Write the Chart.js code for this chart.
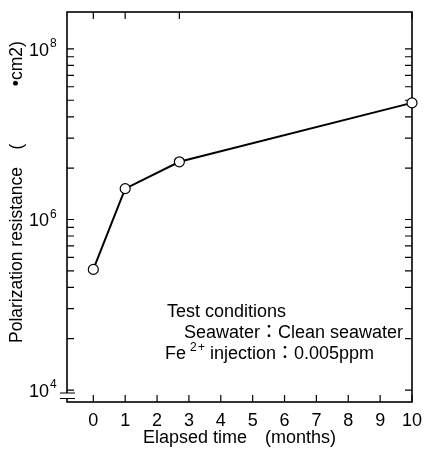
<!DOCTYPE html>
<html>
<head>
<meta charset="utf-8">
<script src="https://cdn.jsdelivr.net/npm/chart.js@4/dist/chart.umd.min.js"></script>
<style>
  html, body { margin: 0; padding: 0; background: #fff; }
  canvas { display: block; }
</style>
</head>
<body>
<canvas id="c" width="424" height="451"></canvas>
<script>
// ---- data ----
const months = [0, 1, 2.7, 10];
const resistance = [2.6e5, 2.3e6, 4.75e6, 2.33e7];
const xTickValues = [0, 1, 2, 3, 4, 5, 6, 7, 8, 9, 10];
const yMajorTicks = [1e4, 1e6, 1e8];
const yMajorBases = ['10', '10', '10'];
const yMajorExponents = ['4', '6', '8'];
const yMinorFactors = [4, 9, 16, 25, 36, 49, 64, 81];
const xTitle = 'Elapsed time\u3000(months)';
const yTitle = 'Polarization resistance\u3000(\u3000\u3000\u3000 \u2022cm2)';
const noteLines = ['Test conditions', 'Seawater\uFF1AClean seawater', ' injection\uFF1A0.005ppm'];
const noteIon = ['Fe', '2', '+'];

const FONT = '"Liberation Sans", Arial, "Noto Sans CJK JP", sans-serif';

function resetPad(s) { s.paddingLeft = 0; s.paddingRight = 0; s.paddingTop = 0; s.paddingBottom = 0; }

const framePlugin = {
  id: 'frame',
  beforeDatasetsDraw(chart) {
    const { ctx, chartArea: a, scales } = chart;
    const xs = scales.x, ys = scales.y;
    const TL = 7;
    ctx.save();
    ctx.strokeStyle = '#000';
    // inward ticks on all four sides
    ctx.lineWidth = 1.2;
    ctx.beginPath();
    ys.ticks.forEach(t => {
      const y = ys.getPixelForValue(t.value);
      ctx.moveTo(a.left, y); ctx.lineTo(a.left + TL, y);
      ctx.moveTo(a.right, y); ctx.lineTo(a.right - TL, y);
    });
    xs.ticks.forEach(t => {
      const x = xs.getPixelForValue(t.value);
      ctx.moveTo(x, a.bottom); ctx.lineTo(x, a.bottom - TL);
    });
    months.forEach(m => {
      const x = xs.getPixelForValue(m);
      ctx.moveTo(x, a.top); ctx.lineTo(x, a.top + TL);
    });
    ctx.stroke();
    // frame
    ctx.lineWidth = 1.6;
    ctx.strokeRect(a.left, a.top, a.right - a.left, a.bottom - a.top);
    // axis break marks
    const y1 = a.bottom - 9, y2 = a.bottom - 3.5;
    ctx.fillStyle = '#fff';
    ctx.fillRect(a.left - 3, y1, 6, y2 - y1);
    ctx.lineWidth = 1.2;
    ctx.beginPath();
    ctx.moveTo(a.left - 7, y1); ctx.lineTo(a.left + 8, y1);
    ctx.moveTo(a.left - 7, y2); ctx.lineTo(a.left + 8, y2);
    ctx.stroke();
    ctx.restore();
  },
  afterDraw(chart) {
    const { ctx, scales } = chart;
    const ys = scales.y;
    ctx.save();
    ctx.fillStyle = '#000';
    // y major tick labels with superscript exponents
    ctx.textBaseline = 'middle';
    yMajorTicks.forEach((v, i) => {
      const y = ys.getPixelForValue(v) + 2;
      ctx.font = '18px ' + FONT;
      ctx.textAlign = 'right';
      ctx.fillText(yMajorBases[i], 49, y);
      ctx.font = '12px ' + FONT;
      ctx.textAlign = 'left';
      ctx.fillText(yMajorExponents[i], 50, y - 7);
    });
    // test-condition notes
    ctx.font = '18px ' + FONT;
    ctx.textBaseline = 'alphabetic';
    ctx.textAlign = 'left';
    ctx.fillText(noteLines[0], 167, 316.5);
    ctx.fillText(noteLines[1], 184, 337.5);
    ctx.fillText(noteIon[0], 165, 358.5);
    ctx.font = '12px ' + FONT;
    ctx.fillText(noteIon[1], 190, 351);
    ctx.fillText(noteIon[2], 198, 351);
    ctx.font = '18px ' + FONT;
    ctx.fillText(noteLines[2], 205, 358.5);
    // y axis title
    ctx.font = '17.5px ' + FONT;
    ctx.translate(17.5, 343);
    ctx.rotate(-Math.PI / 2);
    ctx.textBaseline = 'middle';
    ctx.fillText(yTitle, 0, 0);
    ctx.restore();
  }
};

new Chart(document.getElementById('c'), {
  type: 'line',
  data: {
    datasets: [{
      data: months.map((m, i) => ({ x: m, y: resistance[i] })),
      borderColor: '#000',
      borderWidth: 2,
      pointRadius: 5,
      pointBackgroundColor: '#fff',
      pointBorderColor: '#000',
      pointBorderWidth: 1.2,
      tension: 0,
      clip: false
    }]
  },
  options: {
    responsive: false,
    animation: false,
    devicePixelRatio: 1,
    layout: { padding: { left: 0, top: 12, right: 12, bottom: 0 } },
    plugins: { legend: { display: false }, tooltip: { enabled: false } },
    scales: {
      x: {
        type: 'linear',
        min: -0.826,
        max: 10,
        grid: { display: false, drawTicks: false, tickLength: 0 },
        border: { display: false },
        afterBuildTicks: s => { s.ticks = xTickValues.map(v => ({ value: v })); },
        afterFit: s => { s.height = 49; resetPad(s); },
        ticks: {
          autoSkip: false, maxRotation: 0, padding: 8, color: '#000',
          font: { family: FONT, size: 18 },
          callback: v => String(v)
        },
        title: {
          display: true, text: xTitle, color: '#000',
          font: { family: FONT, size: 18 },
          padding: { top: 0, bottom: 2 }
        }
      },
      y: {
        type: 'logarithmic',
        min: Math.pow(10, 3.86),
        max: Math.pow(10, 8.433),
        grid: { display: false, drawTicks: false, tickLength: 0 },
        border: { display: false },
        afterBuildTicks: s => {
          const vals = [];
          yMajorTicks.forEach((m, i) => {
            vals.push(m);
            if (i < yMajorTicks.length - 1) yMinorFactors.forEach(f => vals.push(m * f));
          });
          s.ticks = vals.map(v => ({ value: v }));
        },
        afterFit: s => { s.width = 67; resetPad(s); },
        ticks: { display: false }
      }
    }
  },
  plugins: [framePlugin]
});
</script>
</body>
</html>
